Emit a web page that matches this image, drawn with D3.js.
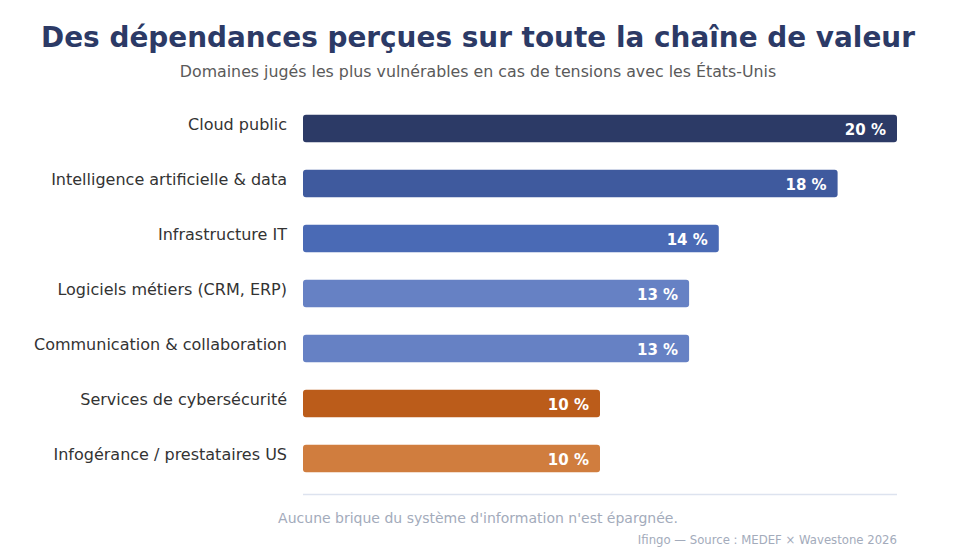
<!DOCTYPE html>
<html>
<head>
<meta charset="utf-8">
<script src="https://cdn.jsdelivr.net/npm/d3@7"></script>
<style>
  body { margin: 0; background: #fff; }
  svg { font-family: "DejaVu Sans", sans-serif; }
</style>
</head>
<body>
<div id="chart"></div>
<script>
// data
const categories = [
  "Cloud public",
  "Intelligence artificielle & data",
  "Infrastructure IT",
  "Logiciels métiers (CRM, ERP)",
  "Communication & collaboration",
  "Services de cybersécurité",
  "Infogérance / prestataires US"
];
const values = [20, 18, 14, 13, 13, 10, 10];
const colors = ["#2c3a66", "#3f5a9e", "#4a6ab5", "#6681c4", "#6681c4", "#bb5c1a", "#d07d3e"];

const width = 956, height = 552;
const margin = { left: 303, right: 59, top: 101, bottom: 66 };

const svg = d3.select("#chart")
  .append("svg")
  .attr("width", width)
  .attr("height", height);

// title + subtitle
svg.append("text")
  .attr("x", width / 2)
  .attr("y", 47)
  .attr("text-anchor", "middle")
  .attr("font-size", 27.9)
  .attr("font-weight", "bold")
  .attr("fill", "#2c3a66")
  .text("Des dépendances perçues sur toute la chaîne de valeur");

svg.append("text")
  .attr("x", width / 2)
  .attr("y", 77)
  .attr("text-anchor", "middle")
  .attr("font-size", 15.8)
  .attr("fill", "#5a5a5a")
  .text("Domaines jugés les plus vulnérables en cas de tensions avec les États-Unis");

const x = d3.scaleLinear()
  .domain([0, 20])
  .range([margin.left, width - margin.right]);

const y = d3.scaleBand()
  .domain(categories)
  .range([margin.top, height - margin.bottom])
  .paddingInner(0.5)
  .paddingOuter(0.25);

const rows = categories.map((c, i) => ({ name: c, value: values[i], color: colors[i] }));

svg.selectAll("rect.bar")
  .data(rows)
  .enter()
  .append("rect")
  .attr("class", "bar")
  .attr("x", x(0))
  .attr("y", d => y(d.name))
  .attr("width", d => x(d.value) - x(0))
  .attr("height", y.bandwidth())
  .attr("rx", 3)
  .attr("fill", d => d.color);

// category labels
svg.selectAll("text.cat")
  .data(rows)
  .enter()
  .append("text")
  .attr("class", "cat")
  .attr("x", x(0) - 16)
  .attr("y", d => y(d.name) + y.bandwidth() / 2 - 4)
  .attr("dy", "0.35em")
  .attr("text-anchor", "end")
  .attr("font-size", 16)
  .attr("fill", "#333")
  .text(d => d.name);

// value labels
svg.selectAll("text.val")
  .data(rows)
  .enter()
  .append("text")
  .attr("class", "val")
  .attr("x", d => x(d.value) - 11)
  .attr("y", d => y(d.name) + y.bandwidth() / 2 + 1)
  .attr("dy", "0.35em")
  .attr("text-anchor", "end")
  .attr("font-size", 15)
  .attr("font-weight", "bold")
  .attr("fill", "#fff")
  .text(d => d.value + " %");

// baseline
svg.append("line")
  .attr("x1", x(0))
  .attr("x2", x(20))
  .attr("y1", 494.5)
  .attr("y2", 494.5)
  .attr("stroke", "#dde3ef")
  .attr("stroke-width", 1.5);

// footnotes
svg.append("text")
  .attr("x", width / 2)
  .attr("y", 523)
  .attr("text-anchor", "middle")
  .attr("font-size", 14)
  .attr("fill", "#a3abbb")
  .text("Aucune brique du système d'information n'est épargnée.");

svg.append("text")
  .attr("x", x(20))
  .attr("y", 544)
  .attr("text-anchor", "end")
  .attr("font-size", 11.7)
  .attr("fill", "#a3abbb")
  .text("Ifingo — Source : MEDEF × Wavestone 2026");
</script>
</body>
</html>
